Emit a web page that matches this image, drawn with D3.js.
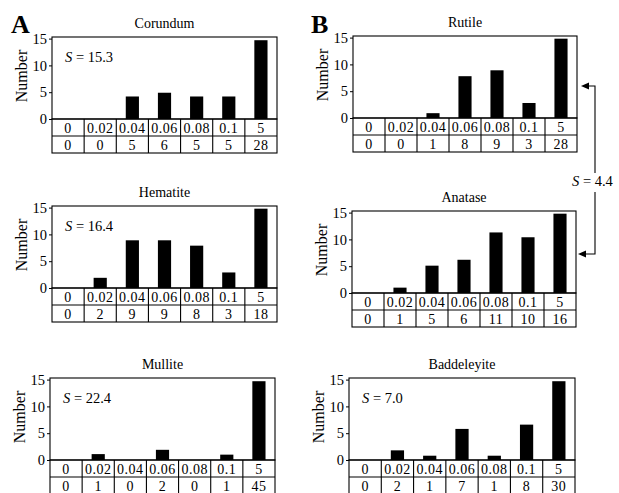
<!DOCTYPE html>
<html>
<head>
<meta charset="utf-8">
<script src="https://cdn.jsdelivr.net/npm/d3@7"></script>
<style>
  html, body { margin: 0; padding: 0; background: #fff; }
  svg { display: block; }
  text { font-family: "Liberation Serif", "Times New Roman", serif; fill: #000; }
</style>
</head>
<body>
<svg id="chart" width="619" height="493"></svg>
<script>
// ---------- DATA ----------
const categories = ["0", "0.02", "0.04", "0.06", "0.08", "0.1", "5"];
const minerals = ["Corundum", "Rutile", "Hematite", "Anatase", "Mullite", "Baddeleyite"];
const sLabels = ["15.3", null, "16.4", null, "22.4", "7.0"];
const sharedS = "4.4"; // Rutile + Anatase
const yTicks = [0, 5, 10, 15];

// table counts
const corundumCounts    = [0, 0, 5, 6, 5, 5, 28];
const rutileCounts      = [0, 0, 1, 8, 9, 3, 28];
const hematiteCounts    = [0, 2, 9, 9, 8, 3, 18];
const anataseCounts     = [0, 1, 5, 6, 11, 10, 16];
const mulliteCounts     = [0, 1, 0, 2, 0, 1, 45];
const baddeleyiteCounts = [0, 2, 1, 7, 1, 8, 30];

// bar heights as drawn (axis capped at 15)
const corundumBars    = [0, 0, 4.2, 4.9, 4.2, 4.2, 14.7];
const rutileBars      = [0, 0, 0.9, 7.8, 8.9, 2.8, 14.8];
const hematiteBars    = [0, 1.9, 8.9, 8.9, 7.9, 2.9, 14.8];
const anataseBars     = [0, 1.0, 5.1, 6.2, 11.3, 10.4, 14.8];
const mulliteBars     = [0, 1.1, 0, 1.9, 0, 1.0, 14.7];
const baddeleyiteBars = [0, 1.8, 0.8, 5.8, 0.8, 6.6, 14.7];

const allCounts = [corundumCounts, rutileCounts, hematiteCounts, anataseCounts, mulliteCounts, baddeleyiteCounts];
const allBars = [corundumBars, rutileBars, hematiteBars, anataseBars, mulliteBars, baddeleyiteBars];

// ---------- LAYOUT ----------
const layout = [
  {left: 52,  right: 277, baseline: 119},
  {left: 353, right: 577, baseline: 118},
  {left: 52,  right: 277, baseline: 288},
  {left: 352, right: 576, baseline: 293},
  {left: 50,  right: 275, baseline: 460},
  {left: 349, right: 575, baseline: 460}
];
const plotH = 82;
const rowH = 17;
const yMax = 15.3;

const svg = d3.select("#chart");

minerals.forEach((name, i) => {
  const L = layout[i];
  const top = L.baseline - plotH;
  const g = svg.append("g");

  const x = d3.scaleBand().domain(categories).range([L.left, L.right]).padding(0);
  const y = d3.scaleLinear().domain([0, yMax]).range([L.baseline, top]);
  const bw = x.bandwidth();
  const barW = bw * 0.41;

  // bars
  g.selectAll("rect.bar")
    .data(categories.map((c, k) => ({c, v: allBars[i][k]})))
    .enter().append("rect")
    .attr("x", d => x(d.c) + (bw - barW) / 2)
    .attr("width", barW)
    .attr("y", d => y(d.v))
    .attr("height", d => y(0) - y(d.v))
    .attr("fill", "#000");

  // frame
  g.append("rect")
    .attr("x", L.left).attr("y", top)
    .attr("width", L.right - L.left).attr("height", L.baseline - top)
    .attr("fill", "none").attr("stroke", "#000").attr("stroke-width", 1.1);

  // y axis
  const axis = d3.axisLeft(y).tickValues(yTicks).tickSize(3).tickPadding(2).tickFormat(d3.format("d"));
  const ag = g.append("g").attr("transform", `translate(${L.left},0)`).call(axis);
  ag.select(".domain").remove();
  ag.selectAll("line").attr("stroke", "#000");
  ag.selectAll("text")
    .style("font-family", '"Liberation Serif", "Times New Roman", serif')
    .style("font-size", "14.5px").attr("fill", "#000");

  // y label
  g.append("text")
    .attr("transform", `translate(${L.left - 25},${(top + L.baseline) / 2 - 2}) rotate(-90)`)
    .attr("text-anchor", "middle")
    .style("font-size", "16px")
    .text("Number");

  // title
  g.append("text")
    .attr("x", (L.left + L.right) / 2).attr("y", top - 9)
    .attr("text-anchor", "middle")
    .style("font-size", "14px")
    .text(name);

  // S label
  if (sLabels[i]) {
    const t = g.append("text").attr("x", L.left + 13).attr("y", top + 25)
      .style("font-size", "14.5px");
    t.append("tspan").style("font-style", "italic").text("S");
    t.append("tspan").text(" = " + sLabels[i]);
  }

  // table
  const tTop = L.baseline;
  const tBot = L.baseline + 2 * rowH;
  g.append("rect")
    .attr("x", L.left).attr("y", tTop)
    .attr("width", L.right - L.left).attr("height", 2 * rowH)
    .attr("fill", "none").attr("stroke", "#000").attr("stroke-width", 1.1);
  g.append("line")
    .attr("x1", L.left).attr("x2", L.right)
    .attr("y1", tTop + rowH).attr("y2", tTop + rowH)
    .attr("stroke", "#000").attr("stroke-width", 1.1);
  g.selectAll("line.col")
    .data(categories.slice(1))
    .enter().append("line")
    .attr("x1", d => x(d)).attr("x2", d => x(d))
    .attr("y1", tTop).attr("y2", tBot)
    .attr("stroke", "#000").attr("stroke-width", 1.1);
  g.selectAll("text.cat")
    .data(categories)
    .enter().append("text")
    .attr("x", d => x(d) + bw / 2).attr("y", tTop + 14)
    .attr("text-anchor", "middle")
    .style("font-size", "14px").style("letter-spacing", "0.5px")
    .text(d => d);
  g.selectAll("text.cnt")
    .data(categories.map((c, k) => ({c, n: allCounts[i][k]})))
    .enter().append("text")
    .attr("x", d => x(d.c) + bw / 2).attr("y", tTop + rowH + 14)
    .attr("text-anchor", "middle")
    .style("font-size", "14px").style("letter-spacing", "0.5px")
    .text(d => d.n);
});

// panel letters
svg.append("text").attr("x", 11).attr("y", 33)
  .style("font-size", "26px").style("font-weight", "bold").text("A");
svg.append("text").attr("x", 311).attr("y", 33)
  .style("font-size", "26px").style("font-weight", "bold").text("B");

// shared S bracket arrow (Rutile <-> Anatase)
const ax = 595, yUp = 86, yDn = 254;
const tipUp = 581, tipDn = 578;
const arr = svg.append("g").attr("stroke", "#000").attr("stroke-width", 1.1).attr("fill", "none");
arr.append("path").attr("d", `M${tipUp + 6},${yUp} H${ax} V173`);
arr.append("path").attr("d", `M${ax},192 V${yDn} H${tipDn + 6}`);
svg.append("path").attr("d", `M${tipUp},${yUp} l8,-3.5 l0,7 z`).attr("fill", "#000");
svg.append("path").attr("d", `M${tipDn},${yDn} l8,-3.5 l0,7 z`).attr("fill", "#000");
const st = svg.append("text").attr("x", 572).attr("y", 186).style("font-size", "14.5px");
st.append("tspan").style("font-style", "italic").text("S");
st.append("tspan").text(" = " + sharedS);
</script>
</body>
</html>
